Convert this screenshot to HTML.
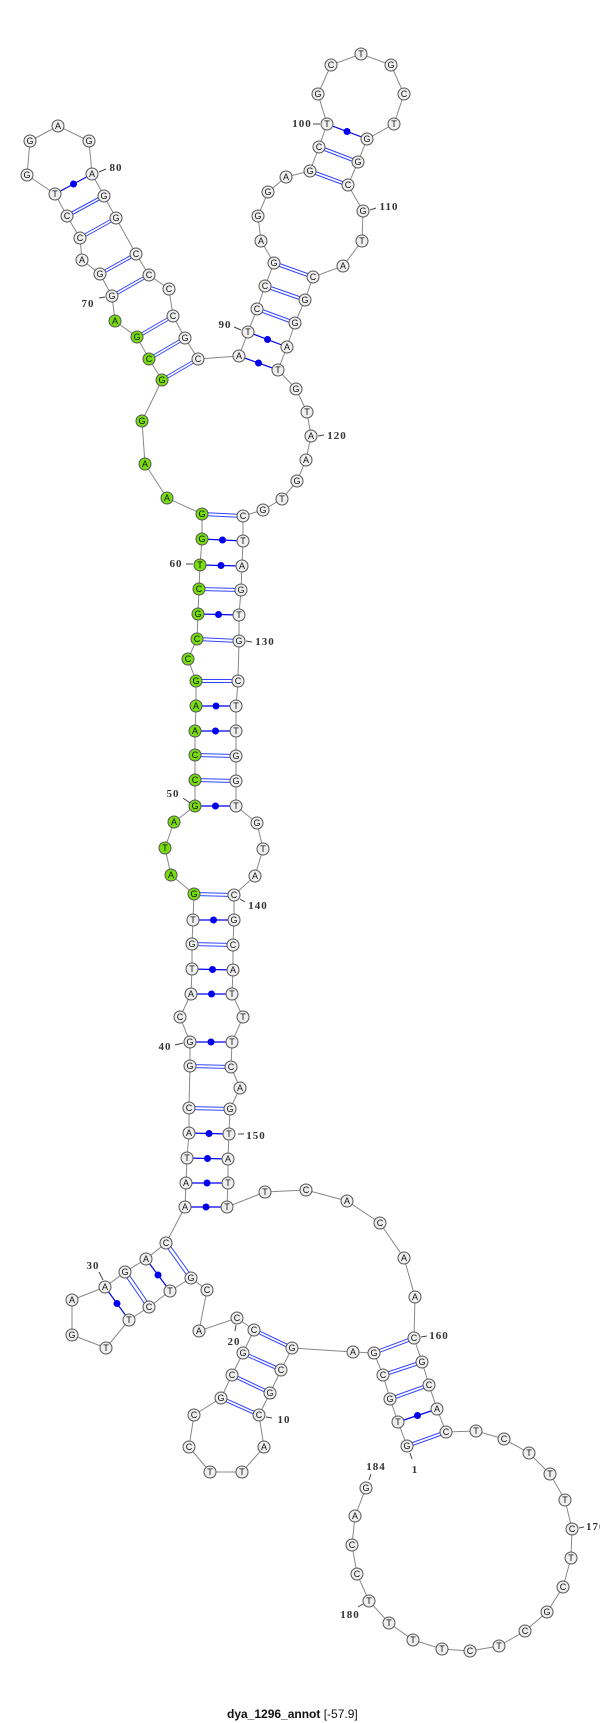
<!DOCTYPE html>
<html><head><meta charset="utf-8"><style>
html,body{margin:0;padding:0;background:#fff;}
svg{display:block;}
.n{stroke:#555;stroke-width:1;fill:#efefef;}
.g{fill:#77dd11;}
.t{font-family:"Liberation Sans",sans-serif;font-size:9px;text-anchor:middle;fill:#111;}
.l{font-family:"Liberation Serif",serif;font-weight:bold;font-size:11px;text-anchor:middle;fill:#333;letter-spacing:1px;}
.k{stroke:#444;stroke-width:1;}
.d{stroke:#3344ff;stroke-width:1;}
.s{stroke:#0000ee;stroke-width:1.2;}
.dot{fill:#0000ee;}
</style></head><body>
<svg width="600" height="1723" viewBox="0 0 600 1723" xmlns="http://www.w3.org/2000/svg">
<polyline fill="none" stroke="#888" stroke-width="1" points="407,1446 398,1422 390,1399 383,1375 374,1353 353,1352 292,1348 281,1370 270,1393 259,1415 264,1447 242,1472 210,1472 189,1447 194,1415 221,1398 232,1375 243,1353 254,1330 237,1318 199,1331 207,1290 191,1278 170,1291 149,1307 129,1320 106,1348 72,1335 72,1300 105,1287 125,1272 146,1259 166,1243 185,1207 186,1183 187,1158 189,1133 189,1108 190,1066 190,1042 180,1017 191,994 192,969 192,944 193,920 194,894 171,875 165,848 174,822 195,806 195,780 195,755 195,731 196,706 196,681 188,659 197,639 198,614 199,589 200,565 202,539 202,514 167,498 145,464 142,421 162,380 149,359 137,337 115,321 112,296 100,274 82,260 80,238 67,216 55,194 27,175 30,141 58,126 89,141 92,174 104,196 116,218 136,254 149,275 169,289 173,316 185,338 198,359 239,356 248,332 257,309 265,286 274,263 261,241 258,216 268,192 286,177 310,171 319,147 327,124 318,94 331,65 361,54 391,65 404,94 394,124 367,139 358,162 348,185 363,211 362,241 343,266 313,277 305,300 295,323 287,347 278,370 296,389 307,412 311,436 306,460 297,481 282,499 263,510 243,516 243,541 242,566 241,590 239,615 239,641 238,681 236,706 236,731 236,756 236,781 236,806 257,823 263,849 255,876 234,895 234,920 233,945 233,970 232,994 243,1017 232,1042 231,1067 240,1088 230,1109 229,1134 228,1159 228,1183 227,1207 265,1192 306,1190 347,1201 380,1223 404,1258 415,1297 414,1338 422,1362 429,1385 437,1409 446,1432 476,1431 504,1439 529,1453 550,1474 565,1500 572,1529 571,1558 563,1587 547,1612 525,1631 499,1646 470,1651 442,1649 413,1640 389,1623 369,1601 357,1574 352,1545 355,1516 366,1488"/>
<!-- GC double pairs -->
<g class="d">
<path d="M407,1444.5L446,1430.5M407,1447.5L446,1433.5"/>
<path d="M390,1397.5L429,1383.5M390,1400.5L429,1386.5"/>
<path d="M383,1373.5L422,1360.5M383,1376.5L422,1363.5"/>
<path d="M374,1351.5L414,1336.5M374,1354.5L414,1339.5"/>
<path d="M292,1346.5L254,1328.5M292,1349.5L254,1331.5"/>
<path d="M281,1368.5L243,1351.5M281,1371.5L243,1354.5"/>
<path d="M270,1391.5L232,1373.5M270,1394.5L232,1376.5"/>
<path d="M259,1413.5L221,1396.5M259,1416.5L221,1399.5"/>
<path d="M164.5,1244L189.5,1279M167.5,1242L192.5,1277"/>
<path d="M123.5,1273L147.5,1308M126.5,1271L150.5,1306"/>
<path d="M190,1064.5L231,1065.5M190,1067.5L231,1068.5"/>
<path d="M189,1106.5L230,1107.5M189,1109.5L230,1110.5"/>
<path d="M192,942.5L233,943.5M192,945.5L233,946.5"/>
<path d="M194,892.5L234,893.5M194,895.5L234,896.5"/>
<path d="M195,778.5L236,779.5M195,781.5L236,782.5"/>
<path d="M195,753.5L236,754.5M195,756.5L236,757.5"/>
<path d="M196,679.5L238,679.5M196,682.5L238,682.5"/>
<path d="M197,637.5L239,639.5M197,640.5L239,642.5"/>
<path d="M199,587.5L241,588.5M199,590.5L241,591.5"/>
<path d="M202,512.5L243,514.5M202,515.5L243,517.5"/>
<path d="M162,378.5L198,357.5M162,381.5L198,360.5"/>
<path d="M149,357.5L185,336.5M149,360.5L185,339.5"/>
<path d="M137,335.5L173,314.5M137,338.5L173,317.5"/>
<path d="M112,294.5L149,273.5M112,297.5L149,276.5"/>
<path d="M100,272.5L136,252.5M100,275.5L136,255.5"/>
<path d="M80,236.5L116,216.5M80,239.5L116,219.5"/>
<path d="M67,214.5L104,194.5M67,217.5L104,197.5"/>
<path d="M257,307.5L295,321.5M257,310.5L295,324.5"/>
<path d="M265,284.5L305,298.5M265,287.5L305,301.5"/>
<path d="M274,261.5L313,275.5M274,264.5L313,278.5"/>
<path d="M310,169.5L348,183.5M310,172.5L348,186.5"/>
<path d="M319,145.5L358,160.5M319,148.5L358,163.5"/>
</g>
<!-- dot pairs -->
<g class="s">
<line x1="398" y1="1422" x2="437" y2="1409"/>
<line x1="146" y1="1259" x2="170" y2="1291"/>
<line x1="105" y1="1287" x2="129" y2="1320"/>
<line x1="185" y1="1207" x2="227" y2="1207"/>
<line x1="186" y1="1183" x2="228" y2="1183"/>
<line x1="187" y1="1158" x2="228" y2="1159"/>
<line x1="189" y1="1133" x2="229" y2="1134"/>
<line x1="190" y1="1042" x2="232" y2="1042"/>
<line x1="191" y1="994" x2="232" y2="994"/>
<line x1="192" y1="969" x2="233" y2="970"/>
<line x1="193" y1="920" x2="234" y2="920"/>
<line x1="195" y1="806" x2="236" y2="806"/>
<line x1="195" y1="731" x2="236" y2="731"/>
<line x1="196" y1="706" x2="236" y2="706"/>
<line x1="198" y1="614" x2="239" y2="615"/>
<line x1="200" y1="565" x2="242" y2="566"/>
<line x1="202" y1="539" x2="243" y2="541"/>
<line x1="55" y1="194" x2="92" y2="174"/>
<line x1="239" y1="356" x2="278" y2="370"/>
<line x1="248" y1="332" x2="287" y2="347"/>
<line x1="327" y1="124" x2="367" y2="139"/>
</g>
<g class="dot">
<circle cx="417.5" cy="1415.5" r="3.5"/><circle cx="158" cy="1275" r="3.5"/><circle cx="117" cy="1303.5" r="3.5"/>
<circle cx="206" cy="1207" r="3.5"/><circle cx="207" cy="1183" r="3.5"/><circle cx="207.5" cy="1158.5" r="3.5"/>
<circle cx="209" cy="1133.5" r="3.5"/><circle cx="211" cy="1042" r="3.5"/><circle cx="211.5" cy="994" r="3.5"/>
<circle cx="212.5" cy="969.5" r="3.5"/><circle cx="213.5" cy="920" r="3.5"/><circle cx="215.5" cy="806" r="3.5"/>
<circle cx="215.5" cy="731" r="3.5"/><circle cx="216" cy="706" r="3.5"/><circle cx="218.5" cy="614.5" r="3.5"/>
<circle cx="221" cy="565.5" r="3.5"/><circle cx="222.5" cy="540" r="3.5"/><circle cx="73.5" cy="184" r="3.5"/>
<circle cx="258.5" cy="363" r="3.5"/><circle cx="267.5" cy="339.5" r="3.5"/><circle cx="347" cy="131.5" r="3.5"/>
</g>
<!-- nodes -->
<g>
<circle class="n" cx="407" cy="1446" r="6"/><text class="t" x="407" y="1449">G</text>
<circle class="n" cx="398" cy="1422" r="6"/><text class="t" x="398" y="1425">T</text>
<circle class="n" cx="390" cy="1399" r="6"/><text class="t" x="390" y="1402">G</text>
<circle class="n" cx="383" cy="1375" r="6"/><text class="t" x="383" y="1378">C</text>
<circle class="n" cx="374" cy="1353" r="6"/><text class="t" x="374" y="1356">G</text>
<circle class="n" cx="353" cy="1352" r="6"/><text class="t" x="353" y="1355">A</text>
<circle class="n" cx="292" cy="1348" r="6"/><text class="t" x="292" y="1351">G</text>
<circle class="n" cx="281" cy="1370" r="6"/><text class="t" x="281" y="1373">C</text>
<circle class="n" cx="270" cy="1393" r="6"/><text class="t" x="270" y="1396">G</text>
<circle class="n" cx="259" cy="1415" r="6"/><text class="t" x="259" y="1418">C</text>
<circle class="n" cx="264" cy="1447" r="6"/><text class="t" x="264" y="1450">A</text>
<circle class="n" cx="242" cy="1472" r="6"/><text class="t" x="242" y="1475">T</text>
<circle class="n" cx="210" cy="1472" r="6"/><text class="t" x="210" y="1475">T</text>
<circle class="n" cx="189" cy="1447" r="6"/><text class="t" x="189" y="1450">C</text>
<circle class="n" cx="194" cy="1415" r="6"/><text class="t" x="194" y="1418">C</text>
<circle class="n" cx="221" cy="1398" r="6"/><text class="t" x="221" y="1401">G</text>
<circle class="n" cx="232" cy="1375" r="6"/><text class="t" x="232" y="1378">C</text>
<circle class="n" cx="243" cy="1353" r="6"/><text class="t" x="243" y="1356">G</text>
<circle class="n" cx="254" cy="1330" r="6"/><text class="t" x="254" y="1333">C</text>
<circle class="n" cx="237" cy="1318" r="6"/><text class="t" x="237" y="1321">C</text>
<circle class="n" cx="199" cy="1331" r="6"/><text class="t" x="199" y="1334">A</text>
<circle class="n" cx="207" cy="1290" r="6"/><text class="t" x="207" y="1293">C</text>
<circle class="n" cx="191" cy="1278" r="6"/><text class="t" x="191" y="1281">G</text>
<circle class="n" cx="170" cy="1291" r="6"/><text class="t" x="170" y="1294">T</text>
<circle class="n" cx="149" cy="1307" r="6"/><text class="t" x="149" y="1310">C</text>
<circle class="n" cx="129" cy="1320" r="6"/><text class="t" x="129" y="1323">T</text>
<circle class="n" cx="106" cy="1348" r="6"/><text class="t" x="106" y="1351">T</text>
<circle class="n" cx="72" cy="1335" r="6"/><text class="t" x="72" y="1338">G</text>
<circle class="n" cx="72" cy="1300" r="6"/><text class="t" x="72" y="1303">A</text>
<circle class="n" cx="105" cy="1287" r="6"/><text class="t" x="105" y="1290">A</text>
<circle class="n" cx="125" cy="1272" r="6"/><text class="t" x="125" y="1275">G</text>
<circle class="n" cx="146" cy="1259" r="6"/><text class="t" x="146" y="1262">A</text>
<circle class="n" cx="166" cy="1243" r="6"/><text class="t" x="166" y="1246">C</text>
<circle class="n" cx="185" cy="1207" r="6"/><text class="t" x="185" y="1210">A</text>
<circle class="n" cx="186" cy="1183" r="6"/><text class="t" x="186" y="1186">A</text>
<circle class="n" cx="187" cy="1158" r="6"/><text class="t" x="187" y="1161">T</text>
<circle class="n" cx="189" cy="1133" r="6"/><text class="t" x="189" y="1136">A</text>
<circle class="n" cx="189" cy="1108" r="6"/><text class="t" x="189" y="1111">C</text>
<circle class="n" cx="190" cy="1066" r="6"/><text class="t" x="190" y="1069">G</text>
<circle class="n" cx="190" cy="1042" r="6"/><text class="t" x="190" y="1045">G</text>
<circle class="n" cx="180" cy="1017" r="6"/><text class="t" x="180" y="1020">C</text>
<circle class="n" cx="191" cy="994" r="6"/><text class="t" x="191" y="997">A</text>
<circle class="n" cx="192" cy="969" r="6"/><text class="t" x="192" y="972">T</text>
<circle class="n" cx="192" cy="944" r="6"/><text class="t" x="192" y="947">G</text>
<circle class="n" cx="193" cy="920" r="6"/><text class="t" x="193" y="923">T</text>
<circle class="n g" cx="194" cy="894" r="6"/><text class="t" x="194" y="897">G</text>
<circle class="n g" cx="171" cy="875" r="6"/><text class="t" x="171" y="878">A</text>
<circle class="n g" cx="165" cy="848" r="6"/><text class="t" x="165" y="851">T</text>
<circle class="n g" cx="174" cy="822" r="6"/><text class="t" x="174" y="825">A</text>
<circle class="n g" cx="195" cy="806" r="6"/><text class="t" x="195" y="809">G</text>
<circle class="n g" cx="195" cy="780" r="6"/><text class="t" x="195" y="783">C</text>
<circle class="n g" cx="195" cy="755" r="6"/><text class="t" x="195" y="758">C</text>
<circle class="n g" cx="195" cy="731" r="6"/><text class="t" x="195" y="734">A</text>
<circle class="n g" cx="196" cy="706" r="6"/><text class="t" x="196" y="709">A</text>
<circle class="n g" cx="196" cy="681" r="6"/><text class="t" x="196" y="684">G</text>
<circle class="n g" cx="188" cy="659" r="6"/><text class="t" x="188" y="662">C</text>
<circle class="n g" cx="197" cy="639" r="6"/><text class="t" x="197" y="642">C</text>
<circle class="n g" cx="198" cy="614" r="6"/><text class="t" x="198" y="617">G</text>
<circle class="n g" cx="199" cy="589" r="6"/><text class="t" x="199" y="592">C</text>
<circle class="n g" cx="200" cy="565" r="6"/><text class="t" x="200" y="568">T</text>
<circle class="n g" cx="202" cy="539" r="6"/><text class="t" x="202" y="542">G</text>
<circle class="n g" cx="202" cy="514" r="6"/><text class="t" x="202" y="517">G</text>
<circle class="n g" cx="167" cy="498" r="6"/><text class="t" x="167" y="501">A</text>
<circle class="n g" cx="145" cy="464" r="6"/><text class="t" x="145" y="467">A</text>
<circle class="n g" cx="142" cy="421" r="6"/><text class="t" x="142" y="424">G</text>
<circle class="n g" cx="162" cy="380" r="6"/><text class="t" x="162" y="383">G</text>
<circle class="n g" cx="149" cy="359" r="6"/><text class="t" x="149" y="362">C</text>
<circle class="n g" cx="137" cy="337" r="6"/><text class="t" x="137" y="340">G</text>
<circle class="n g" cx="115" cy="321" r="6"/><text class="t" x="115" y="324">A</text>
<circle class="n" cx="112" cy="296" r="6"/><text class="t" x="112" y="299">G</text>
<circle class="n" cx="100" cy="274" r="6"/><text class="t" x="100" y="277">G</text>
<circle class="n" cx="82" cy="260" r="6"/><text class="t" x="82" y="263">A</text>
<circle class="n" cx="80" cy="238" r="6"/><text class="t" x="80" y="241">C</text>
<circle class="n" cx="67" cy="216" r="6"/><text class="t" x="67" y="219">C</text>
<circle class="n" cx="55" cy="194" r="6"/><text class="t" x="55" y="197">T</text>
<circle class="n" cx="27" cy="175" r="6"/><text class="t" x="27" y="178">G</text>
<circle class="n" cx="30" cy="141" r="6"/><text class="t" x="30" y="144">G</text>
<circle class="n" cx="58" cy="126" r="6"/><text class="t" x="58" y="129">A</text>
<circle class="n" cx="89" cy="141" r="6"/><text class="t" x="89" y="144">G</text>
<circle class="n" cx="92" cy="174" r="6"/><text class="t" x="92" y="177">A</text>
<circle class="n" cx="104" cy="196" r="6"/><text class="t" x="104" y="199">G</text>
<circle class="n" cx="116" cy="218" r="6"/><text class="t" x="116" y="221">G</text>
<circle class="n" cx="136" cy="254" r="6"/><text class="t" x="136" y="257">C</text>
<circle class="n" cx="149" cy="275" r="6"/><text class="t" x="149" y="278">C</text>
<circle class="n" cx="169" cy="289" r="6"/><text class="t" x="169" y="292">C</text>
<circle class="n" cx="173" cy="316" r="6"/><text class="t" x="173" y="319">C</text>
<circle class="n" cx="185" cy="338" r="6"/><text class="t" x="185" y="341">G</text>
<circle class="n" cx="198" cy="359" r="6"/><text class="t" x="198" y="362">C</text>
<circle class="n" cx="239" cy="356" r="6"/><text class="t" x="239" y="359">A</text>
<circle class="n" cx="248" cy="332" r="6"/><text class="t" x="248" y="335">T</text>
<circle class="n" cx="257" cy="309" r="6"/><text class="t" x="257" y="312">C</text>
<circle class="n" cx="265" cy="286" r="6"/><text class="t" x="265" y="289">C</text>
<circle class="n" cx="274" cy="263" r="6"/><text class="t" x="274" y="266">G</text>
<circle class="n" cx="261" cy="241" r="6"/><text class="t" x="261" y="244">A</text>
<circle class="n" cx="258" cy="216" r="6"/><text class="t" x="258" y="219">G</text>
<circle class="n" cx="268" cy="192" r="6"/><text class="t" x="268" y="195">G</text>
<circle class="n" cx="286" cy="177" r="6"/><text class="t" x="286" y="180">A</text>
<circle class="n" cx="310" cy="171" r="6"/><text class="t" x="310" y="174">G</text>
<circle class="n" cx="319" cy="147" r="6"/><text class="t" x="319" y="150">C</text>
<circle class="n" cx="327" cy="124" r="6"/><text class="t" x="327" y="127">T</text>
<circle class="n" cx="318" cy="94" r="6"/><text class="t" x="318" y="97">G</text>
<circle class="n" cx="331" cy="65" r="6"/><text class="t" x="331" y="68">C</text>
<circle class="n" cx="361" cy="54" r="6"/><text class="t" x="361" y="57">T</text>
<circle class="n" cx="391" cy="65" r="6"/><text class="t" x="391" y="68">G</text>
<circle class="n" cx="404" cy="94" r="6"/><text class="t" x="404" y="97">C</text>
<circle class="n" cx="394" cy="124" r="6"/><text class="t" x="394" y="127">T</text>
<circle class="n" cx="367" cy="139" r="6"/><text class="t" x="367" y="142">G</text>
<circle class="n" cx="358" cy="162" r="6"/><text class="t" x="358" y="165">G</text>
<circle class="n" cx="348" cy="185" r="6"/><text class="t" x="348" y="188">C</text>
<circle class="n" cx="363" cy="211" r="6"/><text class="t" x="363" y="214">G</text>
<circle class="n" cx="362" cy="241" r="6"/><text class="t" x="362" y="244">T</text>
<circle class="n" cx="343" cy="266" r="6"/><text class="t" x="343" y="269">A</text>
<circle class="n" cx="313" cy="277" r="6"/><text class="t" x="313" y="280">C</text>
<circle class="n" cx="305" cy="300" r="6"/><text class="t" x="305" y="303">G</text>
<circle class="n" cx="295" cy="323" r="6"/><text class="t" x="295" y="326">G</text>
<circle class="n" cx="287" cy="347" r="6"/><text class="t" x="287" y="350">A</text>
<circle class="n" cx="278" cy="370" r="6"/><text class="t" x="278" y="373">T</text>
<circle class="n" cx="296" cy="389" r="6"/><text class="t" x="296" y="392">G</text>
<circle class="n" cx="307" cy="412" r="6"/><text class="t" x="307" y="415">T</text>
<circle class="n" cx="311" cy="436" r="6"/><text class="t" x="311" y="439">A</text>
<circle class="n" cx="306" cy="460" r="6"/><text class="t" x="306" y="463">A</text>
<circle class="n" cx="297" cy="481" r="6"/><text class="t" x="297" y="484">G</text>
<circle class="n" cx="282" cy="499" r="6"/><text class="t" x="282" y="502">T</text>
<circle class="n" cx="263" cy="510" r="6"/><text class="t" x="263" y="513">G</text>
<circle class="n" cx="243" cy="516" r="6"/><text class="t" x="243" y="519">C</text>
<circle class="n" cx="243" cy="541" r="6"/><text class="t" x="243" y="544">T</text>
<circle class="n" cx="242" cy="566" r="6"/><text class="t" x="242" y="569">A</text>
<circle class="n" cx="241" cy="590" r="6"/><text class="t" x="241" y="593">G</text>
<circle class="n" cx="239" cy="615" r="6"/><text class="t" x="239" y="618">T</text>
<circle class="n" cx="239" cy="641" r="6"/><text class="t" x="239" y="644">G</text>
<circle class="n" cx="238" cy="681" r="6"/><text class="t" x="238" y="684">C</text>
<circle class="n" cx="236" cy="706" r="6"/><text class="t" x="236" y="709">T</text>
<circle class="n" cx="236" cy="731" r="6"/><text class="t" x="236" y="734">T</text>
<circle class="n" cx="236" cy="756" r="6"/><text class="t" x="236" y="759">G</text>
<circle class="n" cx="236" cy="781" r="6"/><text class="t" x="236" y="784">G</text>
<circle class="n" cx="236" cy="806" r="6"/><text class="t" x="236" y="809">T</text>
<circle class="n" cx="257" cy="823" r="6"/><text class="t" x="257" y="826">G</text>
<circle class="n" cx="263" cy="849" r="6"/><text class="t" x="263" y="852">T</text>
<circle class="n" cx="255" cy="876" r="6"/><text class="t" x="255" y="879">A</text>
<circle class="n" cx="234" cy="895" r="6"/><text class="t" x="234" y="898">C</text>
<circle class="n" cx="234" cy="920" r="6"/><text class="t" x="234" y="923">G</text>
<circle class="n" cx="233" cy="945" r="6"/><text class="t" x="233" y="948">C</text>
<circle class="n" cx="233" cy="970" r="6"/><text class="t" x="233" y="973">A</text>
<circle class="n" cx="232" cy="994" r="6"/><text class="t" x="232" y="997">T</text>
<circle class="n" cx="243" cy="1017" r="6"/><text class="t" x="243" y="1020">T</text>
<circle class="n" cx="232" cy="1042" r="6"/><text class="t" x="232" y="1045">T</text>
<circle class="n" cx="231" cy="1067" r="6"/><text class="t" x="231" y="1070">C</text>
<circle class="n" cx="240" cy="1088" r="6"/><text class="t" x="240" y="1091">A</text>
<circle class="n" cx="230" cy="1109" r="6"/><text class="t" x="230" y="1112">G</text>
<circle class="n" cx="229" cy="1134" r="6"/><text class="t" x="229" y="1137">T</text>
<circle class="n" cx="228" cy="1159" r="6"/><text class="t" x="228" y="1162">A</text>
<circle class="n" cx="228" cy="1183" r="6"/><text class="t" x="228" y="1186">T</text>
<circle class="n" cx="227" cy="1207" r="6"/><text class="t" x="227" y="1210">T</text>
<circle class="n" cx="265" cy="1192" r="6"/><text class="t" x="265" y="1195">T</text>
<circle class="n" cx="306" cy="1190" r="6"/><text class="t" x="306" y="1193">C</text>
<circle class="n" cx="347" cy="1201" r="6"/><text class="t" x="347" y="1204">A</text>
<circle class="n" cx="380" cy="1223" r="6"/><text class="t" x="380" y="1226">C</text>
<circle class="n" cx="404" cy="1258" r="6"/><text class="t" x="404" y="1261">A</text>
<circle class="n" cx="415" cy="1297" r="6"/><text class="t" x="415" y="1300">A</text>
<circle class="n" cx="414" cy="1338" r="6"/><text class="t" x="414" y="1341">C</text>
<circle class="n" cx="422" cy="1362" r="6"/><text class="t" x="422" y="1365">G</text>
<circle class="n" cx="429" cy="1385" r="6"/><text class="t" x="429" y="1388">C</text>
<circle class="n" cx="437" cy="1409" r="6"/><text class="t" x="437" y="1412">A</text>
<circle class="n" cx="446" cy="1432" r="6"/><text class="t" x="446" y="1435">C</text>
<circle class="n" cx="476" cy="1431" r="6"/><text class="t" x="476" y="1434">T</text>
<circle class="n" cx="504" cy="1439" r="6"/><text class="t" x="504" y="1442">C</text>
<circle class="n" cx="529" cy="1453" r="6"/><text class="t" x="529" y="1456">T</text>
<circle class="n" cx="550" cy="1474" r="6"/><text class="t" x="550" y="1477">T</text>
<circle class="n" cx="565" cy="1500" r="6"/><text class="t" x="565" y="1503">T</text>
<circle class="n" cx="572" cy="1529" r="6"/><text class="t" x="572" y="1532">C</text>
<circle class="n" cx="571" cy="1558" r="6"/><text class="t" x="571" y="1561">T</text>
<circle class="n" cx="563" cy="1587" r="6"/><text class="t" x="563" y="1590">C</text>
<circle class="n" cx="547" cy="1612" r="6"/><text class="t" x="547" y="1615">G</text>
<circle class="n" cx="525" cy="1631" r="6"/><text class="t" x="525" y="1634">C</text>
<circle class="n" cx="499" cy="1646" r="6"/><text class="t" x="499" y="1649">T</text>
<circle class="n" cx="470" cy="1651" r="6"/><text class="t" x="470" y="1654">C</text>
<circle class="n" cx="442" cy="1649" r="6"/><text class="t" x="442" y="1652">T</text>
<circle class="n" cx="413" cy="1640" r="6"/><text class="t" x="413" y="1643">T</text>
<circle class="n" cx="389" cy="1623" r="6"/><text class="t" x="389" y="1626">T</text>
<circle class="n" cx="369" cy="1601" r="6"/><text class="t" x="369" y="1604">T</text>
<circle class="n" cx="357" cy="1574" r="6"/><text class="t" x="357" y="1577">C</text>
<circle class="n" cx="352" cy="1545" r="6"/><text class="t" x="352" y="1548">C</text>
<circle class="n" cx="355" cy="1516" r="6"/><text class="t" x="355" y="1519">A</text>
<circle class="n" cx="366" cy="1488" r="6"/><text class="t" x="366" y="1491">G</text>
</g>
<!-- labels -->
<g class="k">
<line x1="99" y1="172" x2="106" y2="169"/><line x1="99" y1="298" x2="105" y2="297"/>
<line x1="234" y1="327" x2="241" y2="330"/><line x1="313" y1="124" x2="320" y2="124"/>
<line x1="370" y1="210" x2="376" y2="208"/><line x1="318" y1="436" x2="324" y2="435"/>
<line x1="186" y1="564" x2="193" y2="564"/><line x1="246" y1="641" x2="252" y2="642"/>
<line x1="183" y1="798" x2="190" y2="803"/><line x1="240" y1="899" x2="245" y2="902"/>
<line x1="175" y1="1045" x2="183" y2="1043"/><line x1="238" y1="1134" x2="244" y2="1134"/>
<line x1="99" y1="1272" x2="103" y2="1280"/><line x1="236" y1="1325" x2="235" y2="1331"/>
<line x1="266" y1="1417" x2="272" y2="1418"/><line x1="421" y1="1337" x2="427" y2="1336"/>
<line x1="410" y1="1453" x2="412" y2="1459"/><line x1="369" y1="1480" x2="371" y2="1474"/>
<line x1="358" y1="1607" x2="363" y2="1604"/><line x1="579" y1="1528" x2="584" y2="1527"/>
</g>
<g class="l">
<text x="116" y="171">80</text><text x="88" y="307">70</text><text x="225" y="328">90</text>
<text x="302" y="127">100</text><text x="389" y="210">110</text><text x="337" y="439">120</text>
<text x="176" y="567">60</text><text x="265" y="645">130</text><text x="173" y="797">50</text>
<text x="258" y="909">140</text><text x="165" y="1050">40</text><text x="256" y="1139">150</text>
<text x="93" y="1269">30</text><text x="234" y="1345">20</text><text x="284" y="1423">10</text>
<text x="439" y="1339">160</text><text x="415" y="1473">1</text><text x="376" y="1470">184</text>
<text x="350" y="1618">180</text><text x="586" y="1530" style="text-anchor:start">170</text>
</g>
<text x="227" y="1718" style="font-family:'Liberation Sans',sans-serif;font-size:12px;fill:#111;"><tspan font-weight="bold">dya_1296_annot</tspan> [-57.9]</text>
</svg>
</body></html>
